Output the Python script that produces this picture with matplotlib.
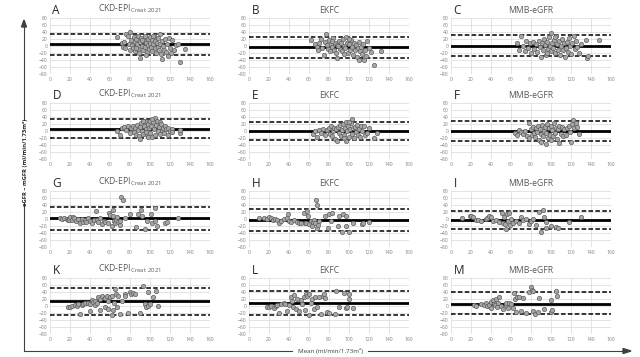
import matplotlib
matplotlib.use("Agg")
import matplotlib.pyplot as plt
from matplotlib.lines import Line2D

plt.rcParams["font.family"] = ["Open Sans", "DejaVu Sans"]
plt.rcParams["mathtext.fontset"] = "custom"
plt.rcParams["mathtext.rm"] = "Open Sans"

# panel letters and titles
letters = ["A", "B", "C", "D", "E", "F", "G", "H", "I", "K", "L", "M"]
titles = [r"CKD-EPI$_{\rm Creat\ 2021}$", "EKFC", "MMB-eGFR"] * 4

# (mean bias, upper LoA, lower LoA) per panel
bias = [5, -3, 1, 7, 1, 0, 2, -3, -3, 13, 8, 7]
upper = [35, 27, 31, 33, 27, 28, 35, 29, 24, 52, 43, 41]
lower = [-27, -33, -28, -19, -25, -29, -30, -35, -28, -27, -27, -23]

# (mean, difference) points
pts_a = [(67, 26), (72, 8), (73, -2), (74, 12), (75, -6), (76, 34), (78, 30), (79, 5), (80, 40), (80, -12),
         (81, 18), (82, 2), (83, -5), (84, 25), (85, 12), (85, -15), (86, 20), (87, 5), (88, -8), (88, 28),
         (89, -20), (90, -33), (90, 12), (91, 22), (92, 0), (93, -10), (94, 15), (95, 28), (95, -3), (96, 8),
         (97, -18), (98, 20), (98, 2), (99, -8), (100, 25), (100, 10), (101, -2), (102, 18), (102, -15),
         (103, 5), (104, 28), (105, -6), (105, 14), (106, -20), (107, 8), (108, 22), (108, -2), (109, -12),
         (110, 33), (110, 5), (111, -22), (112, -37), (112, 15), (113, 0), (114, -10), (115, 20), (116, -18),
         (117, 6), (118, -28), (119, 22), (120, -5), (121, -20), (122, 18), (124, -12), (126, 2), (128, 5),
         (130, -47), (135, -9), (96, -25), (103, 30), (92, 18), (86, -5)]
pts_b = [(62, 16), (66, 5), (68, -3), (69, -12), (70, 8), (72, 20), (73, -5), (75, -27), (76, 12), (77, 33),
         (78, 2), (79, -8), (80, 18), (81, -15), (82, 5), (83, -2), (84, 22), (85, -10), (86, 10), (87, -20),
         (88, -35), (88, 3), (90, 15), (91, -8), (92, 8), (93, -15), (94, 20), (95, 0), (96, -5), (97, 25),
         (98, 10), (99, -20), (100, 5), (101, -10), (102, 18), (103, -3), (104, -25), (105, 8), (106, -12),
         (107, 2), (108, -30), (109, -5), (110, -40), (110, 12), (111, -15), (112, -2), (113, -22), (114, 5),
         (115, -41), (116, -10), (117, -28), (118, 14), (120, -5), (122, -18), (125, -55), (132, -14),
         (100, 20), (95, -22), (89, 0), (83, 15)]
pts_c = [(66, 10), (68, -10), (70, 30), (72, 0), (74, -15), (75, 15), (77, -5), (79, 8), (80, -20), (82, 12),
         (83, -8), (85, 5), (86, -18), (88, 15), (89, -3), (90, -32), (91, 10), (92, -12), (93, 20), (94, 2),
         (95, -25), (96, 12), (97, -8), (98, 25), (99, 0), (100, 37), (100, -15), (101, 8), (102, -5),
         (103, 18), (104, -20), (105, 30), (106, 5), (107, -10), (108, 15), (109, -25), (110, 0), (111, 20),
         (112, -12), (113, 8), (114, -30), (115, -5), (116, 12), (117, -18), (118, 22), (119, 0), (120, -22),
         (121, 10), (123, 28), (124, -8), (125, 15), (126, -2), (128, -20), (130, 5), (135, 18), (136, -33),
         (137, -28), (148, 16), (96, -20), (104, 25)]
pts_d = [(67, 0), (70, -11), (72, 8), (74, 12), (76, 3), (78, 14), (80, -6), (81, 10), (83, 15), (84, -3),
         (85, 8), (86, -12), (87, 18), (88, 2), (89, -15), (90, -24), (90, 12), (91, 22), (92, 0), (93, -8),
         (94, 15), (95, 28), (96, 5), (97, -12), (98, 20), (99, 10), (100, -5), (100, 30), (101, 15),
         (102, -18), (103, 25), (104, 5), (105, 38), (105, -10), (106, 18), (107, 30), (108, 0), (109, 12),
         (110, -8), (110, 25), (111, 20), (112, 2), (113, 10), (114, -5), (115, 15), (116, 5), (118, -10),
         (118, 10), (120, 0), (122, 5), (122, -3), (130, -5), (130, 2), (98, -18), (93, 30), (102, 35), (96, -2)]
pts_e = [(64, -8), (66, 0), (68, -18), (70, 3), (72, -5), (74, 5), (76, -12), (78, 2), (80, 8), (81, -8),
         (82, 15), (83, -15), (84, 0), (85, 10), (86, -22), (87, 5), (88, -28), (89, 12), (90, -5), (91, 18),
         (92, -15), (93, 2), (94, 20), (95, -10), (96, 8), (97, -28), (97, 25), (98, 0), (99, 15), (100, -18),
         (101, 5), (102, 22), (103, 33), (103, -8), (104, 10), (105, -20), (106, 12), (107, -2), (108, 18),
         (109, -12), (110, 5), (111, -18), (112, 15), (113, 0), (115, 15), (116, -10), (118, -5), (120, 10),
         (125, -20), (128, -5), (95, -20), (100, 25)]
pts_f = [(64, -7), (66, -10), (68, 3), (70, -2), (72, -8), (74, 0), (76, -15), (78, 24), (78, -20), (80, 5),
         (81, -10), (82, 12), (83, -5), (84, -18), (85, 8), (86, -2), (87, 15), (88, -25), (89, 5), (90, -8),
         (91, 18), (92, -15), (93, 0), (94, 12), (95, -37), (95, -5), (96, 20), (97, -20), (98, 8), (99, -10),
         (100, 15), (101, 2), (102, -15), (103, 22), (104, -5), (105, 10), (106, -22), (107, 5), (108, -33),
         (108, 15), (110, -8), (111, 12), (112, -15), (113, 5), (115, -10), (116, 10), (118, 15), (119, -3),
         (120, -30), (121, 20), (122, 32), (123, 8), (125, 22), (126, 12), (128, -8), (90, -30), (100, -25)]
pts_g = [(10, 3), (12, 0), (14, 2), (17, 0), (18, -3), (19, -2), (20, 5), (22, -2), (23, 6), (24, 3),
         (26, -5), (28, 0), (30, -12), (32, 0), (33, -8), (35, -3), (36, -8), (38, 2), (40, -5), (42, -12),
         (44, -2), (46, 22), (47, -3), (48, -8), (50, 2), (52, -15), (54, -5), (55, -8), (59, 17), (58, -10),
         (63, 26), (60, 12), (62, -20), (63, 8), (64, -5), (65, -12), (66, -2), (67, 5), (68, -8), (70, -18),
         (70, -5), (71, 62), (73, 53), (75, 2), (80, 15), (86, -22), (88, 14), (91, 27), (92, 10), (95, -29),
         (97, -5), (101, 14), (102, -10), (105, 32), (105, -5), (107, -20), (115, -10), (117, -8), (128, 3)]
pts_h = [(10, 3), (15, 2), (18, 0), (20, 5), (22, 3), (24, -2), (26, 0), (28, -3), (30, -12), (32, -5),
         (35, 0), (38, 2), (39, 14), (40, -5), (42, -8), (45, -3), (48, -8), (50, -10), (52, -12), (55, 18),
         (56, -10), (57, -12), (58, 24), (59, 10), (60, -15), (62, -5), (63, -20), (64, -8), (65, -2),
         (66, -12), (67, 55), (68, 40), (68, -25), (69, -18), (70, -5), (76, 8), (80, 14), (79, -26), (82, -5),
         (83, 16), (89, -19), (90, 10), (93, -36), (94, 14), (97, 8), (97, -20), (100, -36), (104, -12),
         (113, -14), (114, -10), (120, -9)]
pts_i = [(11, 2), (19, 8), (20, 10), (22, 5), (25, -3), (27, -2), (30, -5), (35, 0), (36, 3), (38, 8),
         (40, 5), (42, -5), (45, -2), (48, -8), (51, 17), (52, -10), (53, 5), (54, -15), (55, -29), (56, 15),
         (57, -5), (58, 18), (59, -18), (60, 0), (62, -10), (65, -5), (68, -12), (70, 5), (72, -3), (75, 0),
         (78, -15), (80, -5), (82, 0), (85, -18), (88, 19), (90, -38), (92, 25), (93, 5), (95, -25), (95, -8),
         (100, -20), (105, -22), (107, -25), (118, -8), (130, 5)]
pts_k = [(18, -3), (20, -2), (22, 0), (25, 2), (27, 0), (28, 5), (30, -23), (32, 3), (33, 5), (35, 8),
         (38, 10), (38, 8), (40, -15), (40, 5), (42, 18), (43, 12), (45, 15), (45, 2), (47, 8), (48, 25),
         (50, -11), (50, 20), (52, 28), (55, 22), (55, -2), (57, 30), (58, 15), (58, -8), (60, 25), (62, -25),
         (62, 30), (63, -10), (64, 10), (65, 50), (66, 35), (67, -3), (68, 28), (70, -22), (72, 15), (75, 35),
         (75, 28), (78, -20), (80, 40), (81, 33), (83, 38), (85, 35), (90, -20), (93, 57), (95, 5), (96, -2),
         (98, 39), (98, 0), (100, 5), (103, 26), (106, 42), (108, 0)]
pts_l = [(18, -3), (20, -2), (22, 0), (25, -5), (27, 0), (28, 2), (30, -21), (32, 5), (35, 8), (36, 5),
         (38, -15), (40, 3), (42, 25), (43, 15), (44, -3), (45, 32), (47, -8), (48, 20), (50, -15), (52, 18),
         (53, 5), (55, 25), (56, -10), (57, 35), (58, 28), (60, 35), (60, -25), (62, 10), (63, 20), (65, -8),
         (66, 25), (68, -3), (70, 25), (72, -22), (74, 30), (75, 35), (76, 22), (78, -18), (80, -20),
         (86, -22), (87, 42), (90, -2), (95, 36), (97, -5), (98, -3), (100, 34), (100, 21), (104, -7)]
pts_m = [(23, 2), (25, 0), (30, 5), (33, 3), (35, 8), (36, 0), (38, 2), (40, 12), (40, -5), (42, 18),
         (43, 5), (44, 2), (45, 20), (46, -3), (47, 10), (48, 25), (50, 0), (52, -8), (55, 3), (55, 10),
         (57, -5), (58, 8), (60, 5), (62, -5), (63, 38), (64, 20), (65, -18), (66, 25), (68, 25), (70, -15),
         (72, 22), (75, -20), (78, 40), (80, 54), (81, 45), (82, 43), (82, -15), (84, -22), (87, -18), (88, 23),
         (93, -8), (100, 16), (100, -18), (101, -12), (105, 43), (106, 30)]

panel_pts = [pts_a, pts_b, pts_c, pts_d, pts_e, pts_f, pts_g, pts_h, pts_i, pts_k, pts_l, pts_m]

W, H = 640, 357
col_left = [50, 249, 451]
row_top = [18, 103, 191, 278]
pw, ph = 160, 56

fig = plt.figure(figsize=(W / 100, H / 100), dpi=100)


def fx(px):
    return px / W


def fy(py):
    return 1 - py / H


for i, pts in enumerate(panel_pts):
    r, c = divmod(i, 3)
    ax = fig.add_axes([fx(col_left[c]), fy(row_top[r] + ph), pw / W, ph / H])
    xs, ys = zip(*pts)
    ax.set_xlim(0, 160)
    ax.set_ylim(-80, 80)
    ax.set_xticks(range(0, 161, 20))
    ax.set_yticks(range(-80, 81, 20))
    ax.grid(True, color="#d9d9d9", lw=0.5)
    ax.set_axisbelow(True)
    for s in ax.spines.values():
        s.set_visible(False)
    ax.tick_params(length=0, labelsize=3.6, colors="#808080", pad=2)
    ax.axhline(bias[i], color="black", lw=2.0, zorder=2)
    ax.axhline(upper[i], color="black", lw=1.1, ls=(0, (3, 1.5)), zorder=2)
    ax.axhline(lower[i], color="black", lw=1.1, ls=(0, (3, 1.5)), zorder=2)
    ax.scatter(xs, ys, s=10, facecolor="#a6a6a6", edgecolor="#595959", linewidths=0.45, zorder=3)
    ax.text(0.5, 1.05, titles[i], transform=ax.transAxes, ha="center", va="bottom",
            fontsize=6.2, color="#595959")
    ax.text(0.015, 1.02, letters[i], transform=ax.transAxes, ha="left", va="bottom",
            fontsize=8.5, color="#262626")

# outer axis arrows
ax_x = 24
fig.add_artist(Line2D([fx(ax_x), fx(ax_x)], [fy(351), fy(203)], transform=fig.transFigure,
                      color="#404040", lw=0.8))
fig.add_artist(Line2D([fx(ax_x), fx(292)], [fy(351), fy(351)], transform=fig.transFigure,
                      color="#404040", lw=0.8))
fig.add_artist(Line2D([fx(368), fx(624)], [fy(351), fy(351)], transform=fig.transFigure,
                      color="#404040", lw=0.8))
fig.add_artist(Line2D([fx(ax_x), fx(ax_x)], [fy(120), fy(26)], transform=fig.transFigure,
                      color="#404040", lw=0.8))
fig.patches.append(plt.Polygon([[fx(ax_x - 2.5), fy(27)], [fx(ax_x + 2.5), fy(27)], [fx(ax_x), fy(20)]],
                               closed=True, color="#404040", transform=fig.transFigure, figure=fig))
fig.patches.append(plt.Polygon([[fx(623), fy(348.5)], [fx(623), fy(353.5)], [fx(631), fy(351)]],
                               closed=True, color="#404040", transform=fig.transFigure, figure=fig))

fig.text(fx(26), fy(162), "eGFR – mGFR (ml/min/1.73m²)", rotation=90, ha="center", va="center",
         fontsize=4.2, fontweight="bold", color="#262626")
fig.text(fx(330), fy(351), "Mean (ml/min/1.73m²)", ha="center", va="center",
         fontsize=4.5, color="#404040")

fig.savefig("out.png", dpi=100)
